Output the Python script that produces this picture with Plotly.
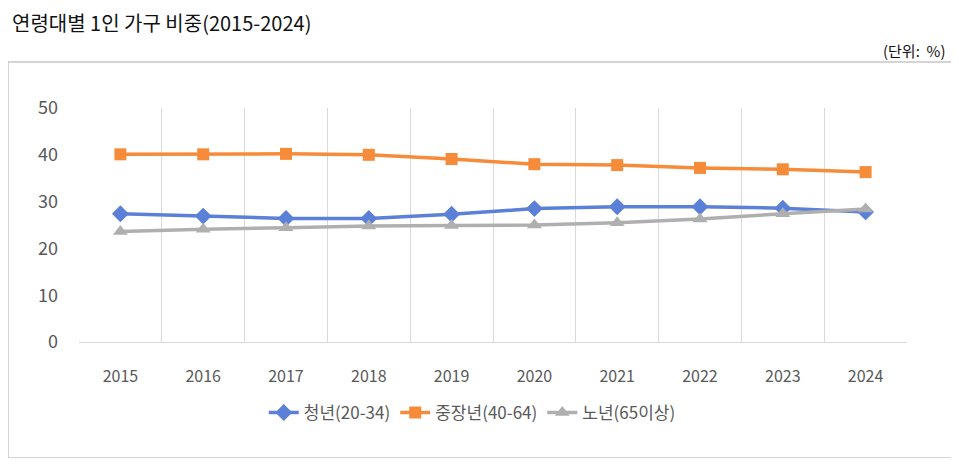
import plotly.graph_objects as go

years = ["2015", "2016", "2017", "2018", "2019", "2020", "2021", "2022", "2023", "2024"]
youth = [27.4, 26.9, 26.4, 26.4, 27.3, 28.5, 28.9, 28.9, 28.6, 27.8]
middle = [40.1, 40.1, 40.2, 40.0, 39.1, 38.0, 37.8, 37.2, 36.9, 36.3]
elderly = [23.6, 24.1, 24.4, 24.8, 24.9, 25.0, 25.5, 26.3, 27.4, 28.4]
names = ["청년(20-34)", "중장년(40-64)", "노년(65이상)"]

FONT = "Noto Sans CJK KR"
OFF = 8  # page body margin
W, H = 959 - 2 * OFF, 466 - 2 * OFF
L, R, T, B = 79 - OFF, 907 - OFF, 108 - OFF, 342 - OFF

fig = go.Figure()
fig.add_trace(go.Scatter(x=years, y=youth, name=names[0], mode="lines+markers",
                         line=dict(color="#5B80D8", width=3.5),
                         marker=dict(symbol="diamond", size=13, color="#5B80D8")))
fig.add_trace(go.Scatter(x=years, y=middle, name=names[1], mode="lines+markers",
                         line=dict(color="#F68B3A", width=3.5),
                         marker=dict(symbol="square", size=12, color="#F68B3A")))
fig.add_trace(go.Scatter(x=years, y=elderly, name=names[2], mode="lines+markers",
                         line=dict(color="#AFAFAF", width=3.5),
                         marker=dict(symbol="triangle-up", size=13, color="#AFAFAF")))

def px_x(p):
    p = p - OFF
    return (p - L) / (R - L)

def px_y(p):
    p = p - OFF
    return (B - p) / (B - T)

fig.update_layout(
    width=W, height=H,
    margin=dict(l=L, r=W - R, t=T, b=H - B, pad=0),
    paper_bgcolor="white", plot_bgcolor="white",
    font=dict(family=FONT, color="#595959"),
    showlegend=True,
    legend=dict(orientation="h", x=0.475, xanchor="center", y=px_y(413), yanchor="middle",
                font=dict(size=17, color="#595959", family=FONT),
                itemwidth=30, tracegroupgap=0, itemsizing="trace",
                bgcolor="rgba(0,0,0,0)"),
    xaxis=dict(type="category", tickson="boundaries", showgrid=True,
               gridcolor="#D9D9D9", gridwidth=1, ticks="", showline=True,
               linecolor="#D9D9D9", linewidth=1, range=[-0.5, 9.5],
               tickfont=dict(size=16, color="#595959", family=FONT),
               ticklabelstandoff=20, zeroline=False),
    yaxis=dict(range=[0, 50], dtick=10, showgrid=False, zeroline=False,
               showline=False, ticks="",
               tickfont=dict(size=18, color="#595959", family=FONT),
               ticklabelstandoff=20),
    shapes=[dict(type="rect", xref="paper", yref="paper",
                 x0=px_x(8), x1=px_x(952), y0=px_y(458), y1=px_y(62),
                 line=dict(color="#C8C8C8", width=1.5), fillcolor="rgba(0,0,0,0)",
                 layer="below")],
    annotations=[
        dict(text="연령대별 1인 가구 비중(2015-2024)", xref="paper", yref="paper",
             x=px_x(10), y=px_y(22), xanchor="left", yanchor="middle", showarrow=False,
             font=dict(size=20, color="#111111", family=FONT)),
        dict(text="(단위:  %)", xref="paper", yref="paper",
             x=px_x(947), y=px_y(50), xanchor="right", yanchor="middle", showarrow=False,
             font=dict(size=15, color="#111111", family=FONT)),
    ],
)

fig.write_html("out.html")
